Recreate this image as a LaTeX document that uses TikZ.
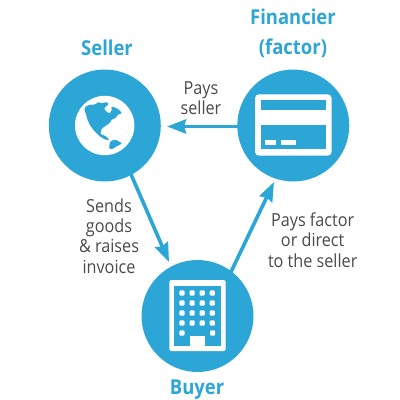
\documentclass[tikz,border=0pt]{standalone}
\usepackage{fontspec}
\setmainfont{Open Sans}[FakeStretch=0.9]
\usetikzlibrary{arrows.meta}
\definecolor{brand}{HTML}{2CA6D6}
\definecolor{txt}{HTML}{4A4A4A}
\tikzset{
  hub/.style={circle,fill=brand,draw=none,minimum size=112pt,inner sep=0pt},
  title/.style={text=brand,font=\bfseries\fontsize{20.5}{30}\selectfont,align=center,inner sep=0pt},
  lbl/.style={text=txt,font=\fontsize{18}{20.4}\selectfont,align=center,inner sep=0pt},
  flow/.style={draw=brand,line width=3.6pt,-{Stealth[length=19pt,width=14pt,inset=2pt]}}
}
\begin{document}
\begin{tikzpicture}[x=1pt,y=-1pt]
\useasboundingbox (0,0) rectangle (400,400);
\node[hub] (seller) at (104.8,125.5) {};
\node[hub] (fin) at (293.3,125.5) {};
\node[hub] (buyer) at (197.5,316) {};
\coordinate (sellerin) at (167,126.5);
\coordinate (sellerout) at (130,172);
\coordinate (buyerin) at (169,262);
\coordinate (buyerout) at (230,274);
\coordinate (finin) at (274,182);
\coordinate (finout) at (240,126.5);
\draw[flow] (finout) -- (sellerin);
\draw[flow] (sellerout) -- (buyerin);
\draw[flow] (buyerout) -- (finin);
% globe
\fill[white] (104.7,125.5) circle (29.7);
\begin{scope}[shift={(30,60)},scale=0.3333]
\fill[brand,rounded corners=1pt] (163,150) -- (166,140) -- (180,134) -- (195,134) -- (205,126) -- (215,130) -- (232,126) -- (236,134) -- (226,140) -- (222,146) -- (230,156) -- (240,160) -- (246,148) -- (243,140) -- (255,142) -- (268,150) -- (276,160) -- (263,164) -- (258,174) -- (246,178) -- (238,190) -- (226,198) -- (215,206) -- (211,222) -- (222,226) -- (232,232) -- (238,241) -- (224,238) -- (208,228) -- (192,212) -- (180,196) -- (172,178) -- (168,162) -- cycle;
\fill[brand,rounded corners=1pt] (240,245) -- (255,238) -- (277,250) -- (262,258) -- (245,268) -- (237,265) -- cycle;
\end{scope}
% card
\fill[white,rounded corners=4pt] (255,94.3) rectangle (331.7,155.7);
\fill[brand] (260.5,100) rectangle (326,110);
\fill[brand] (260.5,125) rectangle (326,149);
\fill[white] (265,139.5) rectangle (276,145);
\fill[white] (280.5,139.5) rectangle (296,145);
% building
\fill[white,rounded corners=1.5pt] (169.3,280) rectangle (225.7,351);
\fill[brand] (174,285.5) rectangle (221,346);
\foreach \xx in {182,192.1,202.2,212.3}
  \foreach \yy in {293,303,313,323}
    \fill[white,rounded corners=1pt] (\xx-2.6,\yy-2.6) rectangle (\xx+2.6,\yy+2.6);
\fill[white,rounded corners=1pt] (179.4,330.4) rectangle (184.6,335.6);
\fill[white,rounded corners=1pt] (210,330.4) rectangle (215.2,335.6);
\fill[white] (189.5,336) rectangle (205,346);
% titles
\node[title] (t1) at (107,47.5) {Seller};
\node[title] (t2) at (293,33.5) {Financier\\(factor)};
\node[title] (t3) at (197,389.5) {Buyer};
\node[lbl] (l1) at (201,98) {Pays\\seller};
\node[lbl] (l2) at (109,236) {Sends\\goods\\\& raises\\invoice};
\node[lbl] (l3) at (312.7,240) {Pays factor\\or direct\\to the seller};
\end{tikzpicture}
\end{document}
